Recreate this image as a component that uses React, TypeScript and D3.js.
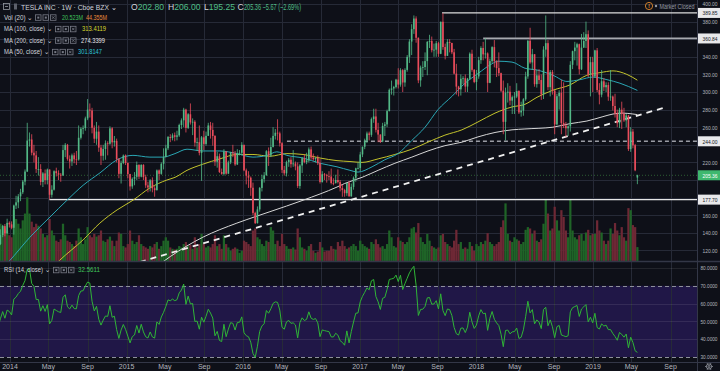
import React from "react";
import * as d3 from "d3";

// ---------- DATA (weekly TSLA, Cboe BZX) ----------
const firstWeekUtc = Date.UTC(2013, 10, 25); // Monday of first weekly bar

const opens = [
  121.5,127.3,137.4,147.6,139.3,151.3,149.6,145.7,171,174.6,
  181.4,186,198.2,209.6,244.8,246,231,228,212.4,212.5,
  197.8,207.5,200,211.9,183.2,189,210,207.8,206,205,
  234,240,224,221,228,223.5,223.3,248,258.3,259,
  270,280,279,259.3,246.9,255,236.8,227.5,235.2,241.7,
  241.2,258.7,242.8,244.5,223.7,207,219.3,227.8,219.3,206.7,
  192.7,201.3,203.6,217.1,203.8,217.1,203.3,193.9,191.5,199.6,
  190.6,188.5,210.9,207,218.4,226,236,248.8,247.7,250.8,
  249.1,250.7,262.5,267.8,280,259.2,274.7,265.4,266.2,242.5,
  243,230.8,248.5,241,250.2,262,256.9,250,220.7,227,
  209.1,206.9,232.4,207.2,220,231.6,230.4,217.7,230.5,230.9,
  240,211,204.9,202.6,191.2,162.6,151,166.6,191,201,
  205.3,232.7,227.8,237.6,250.1,253.7,253,241.8,211.5,207.6,
  220.3,223,218,218.8,215.5,193.2,216.5,224.8,220.4,222.3,
  234.8,225.6,223.7,225,219.2,197.8,206.5,205.4,204.6,204,
  196.6,196.5,200,197.7,190.8,188.6,185,196.7,181.5,192.2,
  202.5,213.3,213.7,229,237.8,244.7,252.9,251.3,269.2,272.2,
  257,251.6,243.7,261.5,263.2,278.3,302.5,304,305.6,314.1,
  308.4,324.8,310.8,325.1,339.9,357.3,371.4,383.5,361.6,313.2,
  327.8,328.4,335.1,356.9,357.9,347.5,348.1,355.4,343.4,379.8,
  351.1,341.1,356.9,355.7,345.1,320.9,306.1,303,315.1,315.6,
  306.2,315.1,343.5,325.2,311.4,317.7,336.2,350,342.8,343.8,
  310.4,335.1,351,335.1,327.2,321.4,301.5,266.1,299.3,300.3,
  290.2,294.1,294.8,301.1,276.8,278.9,291.7,317.7,358.2,333.6,
  342.9,308.9,318.9,313.6,297.2,348.2,355.5,305.5,322.8,301.7,
  263.2,295.2,299.1,264.8,261.9,258.8,261,330.9,346.4,350.5,
  354.3,325.8,350.5,358,365.7,319.8,333.9,317.7,347.3,302.3,
  297,312.2,305.4,307.9,294.7,294.8,284.1,275.4,264.5,279.9,
  275,267.7,273.3,235.1,255,239.5,202.8,
];

const highs = [
  130,144,149,150,156,153,153,172,182,184,
  190,200,212,265,254,252,240,233,226,218,
  209,212,213,212,194,211,214,211,208,240,
  242,241,228,230,231,233,262,260,262,272,
  292,287,282,262,266,262,240,240,245,244,
  261,260,250,247,225,222,229,229,220,207,
  203,209,221,218,218,218,206,198,201,203,
  193,212,212,220,236,240,250,252,253,254,
  256,264,270,282,281,276,287,270,268,248,
  262,250,256,255,265,266,265,251,232,230,
  213,235,233,222,232,240,233,235,234,243,
  240,213,210,204,197,164,170,192,206,209,
  234,237,248,260,258,269,255,243,216,222,
  225,226,234,221,220,218,226,229,231,237,
  238,230,226,228,224,210,208,207,210,213,
  202,206,212,200,195,190,197,199,196,204,
  214,220,232,238,247,255,255,271,281,281,
  265,252,265,266,280,304,313,307,315,327,
  327,326,327,342,360,377,387,386,362,330,
  335,345,358,365,363,355,358,357,380,389.6,
  355,360,360,356,349,332,307,320,318,320,
  316,345,348,326,325,340,352,357,361,345,
  338,352,359,336,345,322,313,305,310,307,
  296,300,310,302,289,293,323,359,373,349,
  343,325,326,320,352,387,359,325,325,302,
  298,302,314,311,266,262,335,347,357,356,
  355,366,368,380,370,340,340,348,350,310,
  325,316,311,311,325,296,298,280,282,289,
  282,275,274,260,258,241,206,
];

const lows = [
  120,126,135,136,139,146,144,138,167,168,
  176,184,194,209,238,228,220,208,205,194,
  192,195,195,178,180,188,204,200,198,205,
  226,222,213,216,219,217,222,246,252,256,
  268,271,253,242,240,232,217,222,223,228,
  240,236,238,220,202,196,218,217,202,188,
  190,194,200,201,203,200,191,186,187,186,
  181,188,200,206,212,226,234,243,245,244,
  245,249,258,260,254,258,263,251,238,233,
  228,199,234,239,250,247,239,216,214,208,
  206,205,206,207,218,226,216,217,228,228,
  210,195,191,182,160,150,150.5,164,187,197,
  205,216,226,237,246,245,238,208,205,204,
  215,214,215,211,191,190,208,219,218,220,
  223,222,220,217,196,197,200,197,200,195,
  194,196,196,187,181,181,182,181,181,189,
  198,212,210,226,235,242,245,249,265,254,
  243,242,243,250,260,278,297,296,304,304,
  306,300,306,323,333,342,366,356,310,306,
  317,325,319,350,345,340,340,340,343,348,
  337,341,345,343,320,297,295,296,309,300,
  300,314,323,310,302,315,332,336,338,300,
  310,333,328,317,318,300,252,245,288,285,
  275,275,293,275,272,273,290,315,332,325,
  306,305,309,291,292,340,302,295,297,252,
  262,280,252,259,249,250,255,326,336,330,
  320,325,350,350,317,295,300,316,300,286,
  294,301,300,290,290,279,271,260,259,258,
  266,260,233,232,236,210,195.25,
];

const closes = [
  127.3,137.4,147.6,139.3,151.3,149.6,145.7,171,174.6,181.4,
  186,198.2,209.6,244.8,246,231,228,212.4,212.5,197.8,
  207.5,200,211.9,183.2,189,210,207.8,206,205,234,
  240,224,221,228,223.5,223.3,248,258.3,259,270,
  280,279,259.3,246.9,255,236.8,227.5,235.2,241.7,241.2,
  258.7,242.8,244.5,223.7,207,219.3,227.8,219.3,206.7,192.7,
  201.3,203.6,217.1,203.8,217.1,203.3,193.9,191.5,199.6,190.6,
  188.5,210.9,207,218.4,226,236,248.8,247.7,250.8,249.1,
  250.7,262.5,267.8,280,259.2,274.7,265.4,266.2,242.5,243,
  230.8,248.5,241,250.2,262,256.9,250,220.7,227,209.1,
  206.9,232.4,207.2,220,231.6,230.4,217.7,230.5,230.9,240,
  211,204.9,202.6,191.2,162.6,151,166.6,191,201,205.3,
  232.7,227.8,237.6,250.1,253.7,253,241.8,211.5,207.6,220.3,
  223,218,218.8,215.5,193.2,216.5,224.8,220.4,222.3,234.8,
  225.6,223.7,225,219.2,197.8,206.5,205.4,204.6,204,196.6,
  196.5,200,197.7,190.8,188.6,185,196.7,181.5,192.2,202.5,
  213.3,213.7,229,237.8,244.7,252.9,251.3,269.2,272.2,257,
  251.6,243.7,261.5,263.2,278.3,302.5,304,305.6,314.1,308.4,
  324.8,310.8,325.1,339.9,357.3,371.4,383.5,361.6,313.2,327.8,
  328.4,335.1,356.9,357.9,347.5,348.1,355.4,343.4,379.8,351.1,
  341.1,356.9,355.7,345.1,320.9,306.1,303,315.1,315.6,306.2,
  315.1,343.5,325.2,311.4,317.7,336.2,350,342.8,343.8,310.4,
  335.1,351,335.1,327.2,321.4,301.5,266.1,299.3,300.3,290.2,
  294.1,294.8,301.1,276.8,278.9,291.7,317.7,358.2,333.6,342.9,
  308.9,318.9,313.6,297.2,348.2,355.5,305.5,322.8,301.7,263.2,
  295.2,299.1,264.8,261.9,258.8,261,330.9,346.4,350.5,354.3,
  325.8,350.5,358,365.7,319.8,333.9,317.7,347.3,302.3,297,
  312.2,305.4,307.9,294.7,294.8,284.1,275.4,264.5,279.9,275,
  267.7,273.3,235.1,255,239.5,211.03,205.36,
];

// weekly volume, millions of shares
const volumes = [
  60,55,52,48,45,38,35,75,62,55,
  48,60,70,94,70,58,50,55,52,48,
  40,35,38,62,45,38,30,28,32,55,
  38,30,28,25,22,30,48,35,25,32,
  50,38,35,40,36,38,45,30,28,32,
  36,30,22,30,42,40,22,20,25,45,
  30,25,28,38,25,22,20,18,22,20,
  25,28,18,22,30,35,30,20,18,17,
  18,22,20,25,28,22,24,18,35,20,
  25,40,25,20,22,20,25,38,22,25,
  18,38,25,20,15,18,20,18,12,15,
  30,28,25,22,45,48,35,32,25,22,
  30,28,50,45,25,30,22,40,25,22,
  18,18,20,17,48,35,20,18,15,22,
  25,15,12,14,28,20,14,15,15,22,
  18,17,28,22,30,22,18,20,22,25,
  22,15,30,25,22,20,18,28,25,32,
  25,20,22,18,25,45,35,22,20,35,
  30,28,25,28,35,48,50,42,56,35,
  28,25,40,30,22,20,18,20,38,40,
  28,25,22,20,30,46,25,28,18,20,
  18,28,22,15,25,22,28,25,30,41,
  28,25,22,25,28,50,60,85,40,30,
  28,35,32,30,25,28,46,50,48,40,
  45,30,28,32,55,90,70,45,48,80,
  60,45,75,65,45,35,90,45,35,32,
  38,40,30,42,46,38,40,40,60,45,
  42,30,25,30,48,40,56,45,38,50,
  35,30,78,75,53,50,20.523,
];

// weekly closes before the first visible bar (RSI warm-up only)
const rsiSeedCloses = [76,87,97,98,99,98,103,107,120,122,118,131,134,153,143,163,169,167,166,184,190,180,173,179,183,162,159,138,135,121];

// moving averages: [week index, value]
const ma50Points: [number, number][] = [
  [2,100],[5,108],[14.2,135],[23.2,158],[30.8,177],[38,194],[45.5,208],[53.2,223],[60.3,228],[67.9,226],
  [73.7,226],[79.1,230],[84.5,235],[91.6,233],[99.2,233],[106.8,230],[114,226],[120.3,228],[124.7,232],
  [129.2,228],[136.4,225],[144,219],[151.6,215],[157.4,211],[161,209],[167.3,215],[173,223],[178.9,230],
  [185.1,245],[191,260],[196.8,280],[203,295],[208.9,310],[214.7,321],[220.9,332],[223.6,335],[229.9,334],
  [235.7,327],[241.1,325],[248.2,319],[254.5,312],[260.3,314],[266.1,317],[272.4,314],[278.2,310],[286,301.81],
];
const ma100Points: [number, number][] = [
  [20,90],[27.6,109],[38,132],[45.5,151],[53.2,166],[60.3,177],[67.9,191],[75.5,200],[79.1,203],[84.5,211],
  [91.6,218],[99.2,224],[106.8,229],[114,229],[121.6,227],[129.2,230],[136.4,229],[144,225],[151.6,222],
  [157.4,221],[162.8,220],[170,224],[177.5,229],[185.1,235],[192.3,243],[199.9,251],[207.5,257],[214.7,266],
  [222.3,276],[229.9,283],[235.7,286],[241.1,294],[248.2,302],[255.8,308],[263.4,319],[269.3,322],[275.1,324],
  [281.3,320],[286,313.41],
];
const ma200Points: [number, number][] = [
  [70,100],[77,113],[91.6,135],[106.8,151],[115.8,159],[121.6,164],[136.4,177],[151.6,192],[155,196],
  [162.8,203],[170,211],[177.5,219],[185.1,226],[192.3,233],[199.9,239],[207.5,243],[214.7,249],[222.3,254],
  [229.9,257],[235.7,258],[248.2,260],[255.8,264],[263.4,267],[270.6,272],[275.1,275],[279.5,276],[284,275],
  [286,274.34],
];

// drawn horizontal levels and trendline
const levelPrices = [389.85, 360.84, 244.0, 177.7];
const levelStartWeeks = [198.6, 217, 129.2, 22.9];
const trendWeeks = [63.4, 297.5];
const trendPrices = [106.8, 281.8];

const lastPrice = 205.36;
const priceTicks = [120,140,160,180,200,220,240,260,280,300,320,340,360,380,400];
const rsiTicks = [30,40,50,60,70,80];
const timeTickDates = [
  "2014-01-01","2014-05-01","2014-09-01","2015-01-01","2015-05-01","2015-09-01",
  "2016-01-01","2016-05-01","2016-09-01","2017-01-01","2017-05-01","2017-09-01",
  "2018-01-01","2018-05-01","2018-09-01","2019-01-01","2019-05-01","2019-09-01",
];
const timeTickLabels = ["2014","May","Sep","2015","May","Sep","2016","May","Sep","2017","May","Sep","2018","May","Sep","2019","May","Sep"];

// ---------- STYLE ----------
const BG = "#0e1018";
const GRID = "#262a37";
const SEP = "#333747";
const UP = "#53b987";
const DOWN = "#eb4d5c";
const VOL_UP = "#1f6427";
const VOL_DOWN = "#6e2835";
const TXT = "#d1d4dc";
const AXIS_TXT = "#b2b5be";
const GREEN_TXT = "#4fbf87";
const FONT = "'Liberation Sans', Arial, sans-serif";

const PLOT_R = 697;
const MAIN_BOT = 261;
const RSI_TOP = 262;
const RSI_BOT = 362;

function computeRsi(all: number[], period = 14) {
  const out: number[] = new Array(all.length).fill(NaN);
  let g = 0, l = 0;
  for (let i = 1; i <= period; i++) {
    const d = all[i] - all[i - 1];
    if (d > 0) g += d; else l -= d;
  }
  g /= period; l /= period;
  out[period] = 100 - 100 / (1 + g / l);
  for (let i = period + 1; i < all.length; i++) {
    const d = all[i] - all[i - 1];
    g = (g * (period - 1) + Math.max(d, 0)) / period;
    l = (l * (period - 1) + Math.max(-d, 0)) / period;
    out[i] = l === 0 ? 100 : 100 - 100 / (1 + g / l);
  }
  return out;
}

function IconBoxes({ x, y }: { x: number; y: number }) {
  return (
    <g stroke="#787b86" strokeWidth={0.8} fill="none">
      {[0, 1, 2].map((k) => (
        <g key={k}>
          <rect x={x + k * 7.5 + 0.5} y={y + 0.5} width={5.5} height={5.5} />
          {k === 2 ? (
            <path d={`M${x + 15 + 2},${y + 2} l2.5,2.5 M${x + 15 + 4.5},${y + 2} l-2.5,2.5`} />
          ) : (
            <rect x={x + k * 7.5 + 2.3} y={y + 2.3} width={2} height={2} fill="#787b86" stroke="none" />
          )}
        </g>
      ))}
    </g>
  );
}

export default function App() {
  const x = d3
    .scaleUtc()
    .domain([new Date(Date.UTC(2014, 0, 1)), new Date(Date.UTC(2019, 0, 1))])
    .range([10, 593]);
  const xw = (w: number) => x(new Date(firstWeekUtc + w * 7 * 86400000));
  const y = d3.scaleLinear().domain([120, 400]).range([250.4, 4]);
  const yv = d3.scaleLinear().domain([0, 385]).range([MAIN_BOT, 0]);
  const yr = d3.scaleLinear().domain([30, 80]).range([357, 268]);
  const step = xw(1) - xw(0);

  const maLine = d3
    .line<[number, number]>()
    .x((d) => xw(d[0]))
    .y((d) => y(d[1]))
    .curve(d3.curveMonotoneX);

  const rsiAll = computeRsi(rsiSeedCloses.concat(closes));
  const rsi = rsiAll.slice(rsiSeedCloses.length);
  const rsiLine = d3
    .line<number>()
    .x((_, i) => xw(i))
    .y((d) => yr(d))
    .defined((d) => !isNaN(d));

  const tickX = timeTickDates.map((s) => x(new Date(s + "T00:00:00Z")));

  const labelBoxes = [
    { p: 389.85, fill: "#e8e8ea", color: "#131722" },
    { p: 360.84, fill: "#e8e8ea", color: "#131722" },
    { p: 244.0, fill: "#e8e8ea", color: "#131722" },
    { p: lastPrice, fill: "#3fb86f", color: "#ffffff" },
    { p: 177.7, fill: "#e8e8ea", color: "#131722" },
  ];
  // tick labels that sit under a price box are hidden, as on the reference
  const visiblePriceTicks = priceTicks.filter(
    (p) => !labelBoxes.some((b) => Math.abs(y(b.p) - y(p)) < 6.5)
  );

  return (
    <div style={{ position: "fixed", left: 0, top: 0, width: 720, height: 371 }}>
      <svg width={720} height={371} style={{ display: "block", fontFamily: FONT }}>
        <defs>
          <clipPath id="mainClip">
            <rect x={0} y={0} width={PLOT_R} height={MAIN_BOT} />
          </clipPath>
          <clipPath id="rsiClip">
            <rect x={0} y={RSI_TOP} width={PLOT_R} height={RSI_BOT - RSI_TOP} />
          </clipPath>
        </defs>
        <rect x={0} y={0} width={720} height={371} fill={BG} />

        {/* RSI band */}
        <rect x={0} y={yr(70)} width={PLOT_R} height={yr(30) - yr(70)} fill="#201747" />

        {/* grid */}
        <g stroke={GRID} strokeWidth={1}>
          {priceTicks.map((p) => (
            <line key={"hp" + p} x1={0} x2={PLOT_R} y1={Math.round(y(p)) + 0.5} y2={Math.round(y(p)) + 0.5} />
          ))}
          {tickX.map((tx, i) => (
            <line key={"v" + i} x1={Math.round(tx) + 0.5} x2={Math.round(tx) + 0.5} y1={0} y2={RSI_BOT} />
          ))}
        </g>
        <g stroke="#ffffff" strokeOpacity={0.09} strokeWidth={1}>
          {[40, 50, 60, 80].map((v) => (
            <line key={"hr" + v} x1={0} x2={PLOT_R} y1={Math.round(yr(v)) + 0.5} y2={Math.round(yr(v)) + 0.5} />
          ))}
        </g>

        {/* main pane */}
        <g clipPath="url(#mainClip)">
          {volumes.map((v, i) => {
            const up = closes[i] >= opens[i];
            return (
              <rect
                key={"vol" + i}
                x={xw(i) - step / 2}
                y={yv(v)}
                width={step}
                height={MAIN_BOT - yv(v)}
                fill={up ? VOL_UP : VOL_DOWN}
              />
            );
          })}

          <line x1={0} x2={PLOT_R} y1={y(lastPrice)} y2={y(lastPrice)} stroke="#4caf50" strokeOpacity={0.7} strokeWidth={0.7} strokeDasharray="1 2" />

          <line x1={xw(levelStartWeeks[0])} x2={PLOT_R} y1={y(levelPrices[0])} y2={y(levelPrices[0])} stroke="#dcdcdc" strokeWidth={1.2} />
          <line x1={xw(levelStartWeeks[1])} x2={PLOT_R} y1={y(levelPrices[1])} y2={y(levelPrices[1])} stroke="#a8aab0" strokeWidth={1.8} />
          <line x1={xw(levelStartWeeks[2])} x2={PLOT_R} y1={y(levelPrices[2])} y2={y(levelPrices[2])} stroke="#9a9ca4" strokeWidth={1.4} strokeDasharray="4 3" />
          <line x1={xw(levelStartWeeks[3])} x2={PLOT_R} y1={y(levelPrices[3])} y2={y(levelPrices[3])} stroke="#e6e6e6" strokeWidth={1.4} />

          <line
            x1={xw(trendWeeks[0])}
            y1={y(trendPrices[0])}
            x2={xw(trendWeeks[1])}
            y2={y(trendPrices[1])}
            stroke="#f0f0f0"
            strokeWidth={1.8}
            strokeDasharray="6 5"
          />

          <path d={maLine(ma200Points) || ""} fill="none" stroke="#d6d6d6" strokeWidth={1} />
          <path d={maLine(ma100Points) || ""} fill="none" stroke="#c4c42c" strokeWidth={1} />
          <path d={maLine(ma50Points) || ""} fill="none" stroke="#2aa7b5" strokeWidth={1} />

          {closes.map((c, i) => {
            const o = opens[i];
            const up = c >= o;
            const col = up ? UP : DOWN;
            const cx = xw(i);
            const top = y(Math.max(o, c));
            const bot = y(Math.min(o, c));
            return (
              <g key={"c" + i}>
                <line x1={cx} x2={cx} y1={y(highs[i])} y2={y(lows[i])} stroke={col} strokeWidth={0.8} />
                <rect x={cx - 0.8} y={top} width={1.6} height={Math.max(bot - top, 0.8)} fill={col} />
              </g>
            );
          })}
        </g>

        {/* RSI pane */}
        <g stroke="#8d909b" strokeWidth={1} strokeDasharray="4 3">
          <line x1={0} x2={PLOT_R} y1={Math.round(yr(70)) + 0.5} y2={Math.round(yr(70)) + 0.5} />
          <line x1={0} x2={PLOT_R} y1={Math.round(yr(30)) + 0.5} y2={Math.round(yr(30)) + 0.5} />
        </g>
        <g clipPath="url(#rsiClip)">
          <path d={rsiLine(rsi) || ""} fill="none" stroke="#2fb536" strokeWidth={1} />
        </g>

        {/* separators */}
        <line x1={0} x2={720} y1={MAIN_BOT + 0.5} y2={MAIN_BOT + 0.5} stroke={SEP} strokeWidth={1.5} />
        <line x1={0} x2={720} y1={RSI_BOT + 0.5} y2={RSI_BOT + 0.5} stroke={SEP} strokeWidth={1} />
        <line x1={PLOT_R + 0.5} x2={PLOT_R + 0.5} y1={0} y2={371} stroke={SEP} strokeWidth={1} />

        {/* price axis labels */}
        <g fontSize={6.2} fill={AXIS_TXT} textAnchor="end">
          {visiblePriceTicks.map((p) => (
            <text key={"pt" + p} x={717.5} y={y(p) + 2.3} textLength={15} lengthAdjust="spacingAndGlyphs">
              {p.toFixed(2)}
            </text>
          ))}
        </g>
        <g fontSize={5.4} fill={AXIS_TXT} textAnchor="end">
          {rsiTicks.map((v) => (
            <text key={"rt" + v} x={717.5} y={yr(v) + 2.2} textLength={17} lengthAdjust="spacingAndGlyphs">
              {v.toFixed(4)}
            </text>
          ))}
        </g>
        {labelBoxes.map((b, i) => (
          <g key={"lb" + i}>
            <rect x={698} y={y(b.p) - 5} width={22} height={10} fill={b.fill} />
            <text x={717.5} y={y(b.p) + 2.3} fontSize={6.2} textAnchor="end" fill={b.color} textLength={15} lengthAdjust="spacingAndGlyphs">
              {b.p.toFixed(2)}
            </text>
          </g>
        ))}

        {/* time axis labels */}
        <g fontSize={7} fill={AXIS_TXT} textAnchor="middle">
          {tickX.map((tx, i) => (
            <text key={"tl" + i} x={tx} y={369}>
              {timeTickLabels[i]}
            </text>
          ))}
        </g>
        <g transform="translate(709,366.5)" stroke="#9598a1" fill="none" strokeWidth={0.9}>
          <circle r={2.6} />
          <circle r={1} />
          {d3.range(6).map((k) => {
            const a = (k * Math.PI) / 3;
            return <line key={k} x1={Math.cos(a) * 2.6} y1={Math.sin(a) * 2.6} x2={Math.cos(a) * 3.8} y2={Math.sin(a) * 3.8} />;
          })}
        </g>

        {/* legend header */}
        <rect x={3.5} y={3.5} width={6} height={6} fill="none" stroke="#9598a1" strokeWidth={0.8} />
        <line x1={5} x2={8} y1={6.5} y2={6.5} stroke="#9598a1" strokeWidth={0.8} />
        <rect x={14} y={3.5} width={3} height={6} fill="#5d606b" />
        <text x={21} y={9.5} fontSize={7.6} fill={TXT} textLength={96} lengthAdjust="spacingAndGlyphs">
          TESLA INC · 1W · Cboe BZX ⌄
        </text>
        <g fontSize={8.6} fill={TXT}>
          <text x={131} y={9.8}>O<tspan fill={GREEN_TXT}>202.80</tspan></text>
          <text x={168} y={9.8}>H<tspan fill={GREEN_TXT}>206.00</tspan></text>
          <text x={204} y={9.8}>L<tspan fill={GREEN_TXT}>195.25</tspan></text>
          <text x={237.5} y={9.8}>C</text>
          <text x={244} y={9.8} fill={GREEN_TXT} textLength={57} lengthAdjust="spacingAndGlyphs">205.36 −5.67 (−2.69%)</text>
        </g>

        <g fontSize={6.6} fill={TXT}>
          <text x={4} y={19.5} textLength={29} lengthAdjust="spacingAndGlyphs">Vol (20) ⌄</text>
          <IconBoxes x={35} y={14.3} />
          <text x={62} y={19.5} fill="#3fc25a" textLength={21} lengthAdjust="spacingAndGlyphs">20.523M</text>
          <text x={86} y={19.5} fill="#e8893a" textLength={21} lengthAdjust="spacingAndGlyphs">44.355M</text>

          <text x={4} y={31} textLength={48} lengthAdjust="spacingAndGlyphs">MA (100, close) ⌄</text>
          <IconBoxes x={55} y={25.8} />
          <text x={82} y={31} fill="#d6d62e" textLength={24} lengthAdjust="spacingAndGlyphs">313.4119</text>

          <text x={4} y={42.5} textLength={48} lengthAdjust="spacingAndGlyphs">MA (200, close) ⌄</text>
          <IconBoxes x={55} y={37.3} />
          <text x={81} y={42.5} fill="#e6e6e6" textLength={24} lengthAdjust="spacingAndGlyphs">274.3399</text>

          <text x={4} y={54} textLength={45} lengthAdjust="spacingAndGlyphs">MA (50, close) ⌄</text>
          <IconBoxes x={52} y={48.8} />
          <text x={78} y={54} fill="#2ec4d6" textLength={24} lengthAdjust="spacingAndGlyphs">301.8147</text>

          <text x={4} y={272} textLength={46} lengthAdjust="spacingAndGlyphs">RSI (14, close) ⌄</text>
          <IconBoxes x={53} y={266.8} />
          <text x={78} y={272} fill="#3fc25a" textLength={22} lengthAdjust="spacingAndGlyphs">32.5611</text>
        </g>

        {/* market closed */}
        <circle cx={649} cy={6} r={3.6} fill="none" stroke="#e0892c" strokeWidth={0.9} />
        <text x={649} y={8.4} fontSize={6} fill="#e0892c" textAnchor="middle" fontWeight="bold">!</text>
        <circle cx={656} cy={6} r={1.2} fill="#9598a1" />
        <text x={659.5} y={8.5} fontSize={6.5} fill="#9598a1" textLength={35} lengthAdjust="spacingAndGlyphs">Market Closed</text>
      </svg>
    </div>
  );
}
